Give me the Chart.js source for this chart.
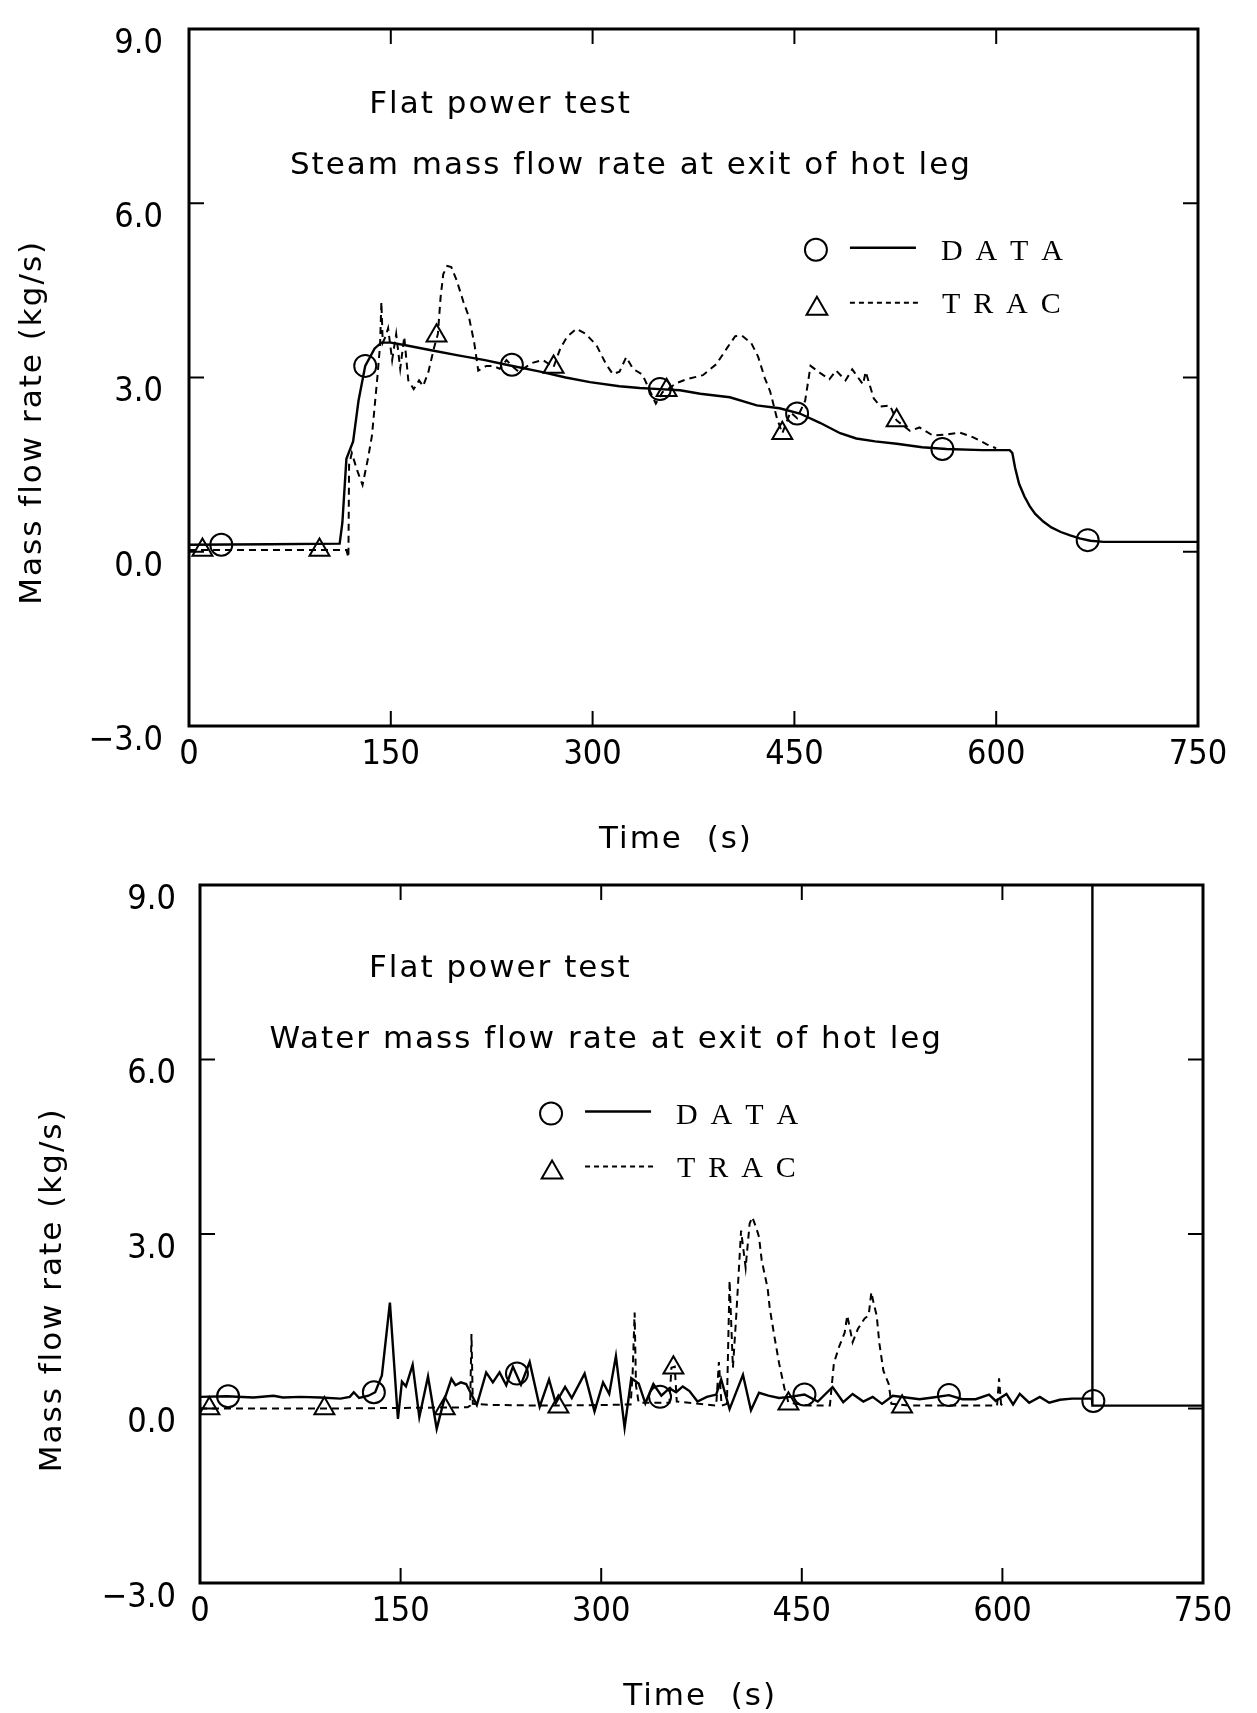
<!DOCTYPE html>
<html>
<head>
<meta charset="utf-8">
<title>Flat power test - hot leg mass flow rates</title>
<script src="https://cdn.jsdelivr.net/npm/chart.js"></script>
<style>
  html, body { margin: 0; padding: 0; background: #fff; }
  body { width: 1257px; height: 1713px; position: relative; overflow: hidden; }
  canvas { position: absolute; left: 0; }
  #steam { top: 0; }
  #water { top: 865px; }
</style>
</head>
<body>
<canvas id="steam" width="1257" height="865"></canvas>
<canvas id="water" width="1257" height="848"></canvas>
<script>
// [time (s), mass flow rate (kg/s)]
const TIME_TICKS = [0, 150, 300, 450, 600, 750];
const FLOW_TICKS = [-3, 0, 3, 6, 9];

const steamData = [
  [0, 0.12], [60, 0.13], [112, 0.14], [114, 0.5], [117, 1.6], [122, 1.9], [126, 2.6], [131, 3.2],
  [138, 3.5], [143, 3.6], [150, 3.6], [160, 3.56], [180, 3.47], [200, 3.38], [220, 3.3], [236, 3.22],
  [261, 3.1], [280, 3.0], [298, 2.92], [320, 2.85], [335, 2.82], [350, 2.8], [365, 2.78], [380, 2.72],
  [402, 2.66], [422, 2.52], [439, 2.47], [454, 2.38], [469, 2.22], [484, 2.04], [496, 1.95], [510, 1.9],
  [526, 1.86], [545, 1.8], [563, 1.77], [590, 1.75], [610, 1.75], [612, 1.7], [614, 1.45], [617, 1.17],
  [621, 0.95], [625, 0.78], [629, 0.65], [635, 0.52], [641, 0.42], [648, 0.34], [655, 0.28], [662, 0.23],
  [670, 0.19], [680, 0.17], [750, 0.17]
];
const steamTrac = [
  [0, 0.03], [117, 0.03], [118.5, -0.1], [119, 1.5], [121, 1.7], [125, 1.4], [129, 1.15], [133, 1.6],
  [136, 2.0], [140, 3.0], [142, 3.55], [143, 4.3], [144, 3.6], [146, 3.7], [148, 3.85], [151, 3.3],
  [154, 3.75], [157, 3.15], [160, 3.7], [163, 2.95], [167, 2.8], [171, 2.95], [174, 2.85], [178, 3.1],
  [182, 3.5], [185, 3.75], [187, 4.38], [189, 4.78], [192, 4.92], [195, 4.9], [199, 4.67], [204, 4.3],
  [208, 4.05], [212, 3.6], [215, 3.12], [221, 3.2], [226, 3.2], [231, 3.15], [236, 3.3], [240, 3.2],
  [245, 3.1], [255, 3.25], [263, 3.3], [271, 3.18], [276, 3.5], [281, 3.7], [288, 3.84], [295, 3.75],
  [303, 3.55], [310, 3.23], [315, 3.06], [320, 3.1], [325, 3.35], [330, 3.15], [337, 3.05], [342, 2.8],
  [347, 2.55], [352, 2.75], [356, 2.8], [362, 2.9], [370, 2.97], [382, 3.04], [392, 3.23], [400, 3.51],
  [406, 3.71], [411, 3.72], [418, 3.59], [423, 3.36], [428, 2.99], [432, 2.76], [437, 2.3], [441, 2.04],
  [447, 2.4], [452, 2.3], [458, 2.6], [462, 3.2], [469, 3.08], [476, 2.97], [481, 3.12], [488, 2.95],
  [493, 3.14], [501, 2.88], [503, 3.1], [509, 2.64], [514, 2.5], [521, 2.52], [526, 2.26], [536, 2.08],
  [543, 2.14], [553, 2.0], [563, 2.02], [573, 2.05], [583, 1.97], [593, 1.85], [600, 1.78]
];
const steamDataMarks = [[24, 0.12], [131, 3.2], [240, 3.22], [350, 2.8], [452, 2.38], [560, 1.77], [668, 0.2]];
const steamTracMarks = [[10, 0.03], [97, 0.03], [184, 3.72], [271, 3.18], [355, 2.78], [441, 2.04], [526, 2.26]];

const waterData = [
  [0, 0.2], [20, 0.21], [40, 0.19], [55, 0.22], [62, 0.19], [75, 0.2], [90, 0.19], [105, 0.17],
  [112, 0.2], [115, 0.28], [119, 0.18], [126, 0.22], [131, 0.28], [136, 0.57], [142, 1.82], [148, -0.18],
  [151, 0.46], [154, 0.38], [159, 0.75], [164, -0.15], [170.5, 0.55], [177, -0.35], [182, 0.1], [188, 0.51],
  [191, 0.4], [195, 0.45], [199, 0.42], [207, 0.06], [214, 0.62], [219, 0.45], [224, 0.62], [229, 0.4],
  [234, 0.72], [240, 0.41], [246.5, 0.8], [254, 0.03], [261, 0.5], [266, 0.09], [273, 0.37], [278, 0.18],
  [287.6, 0.6], [295, -0.05], [301.4, 0.45], [306, 0.25], [311, 0.9], [317.5, -0.33], [322.5, 0.52], [328, 0.43],
  [333, 0.09], [339, 0.42], [345, 0.22], [351, 0.35], [356, 0.28], [361, 0.38], [366, 0.3], [372, 0.12],
  [379, 0.2], [386, 0.24], [389.7, 0.5], [396, -0.01], [406, 0.58], [412, -0.03], [418, 0.27], [425, 0.22],
  [433, 0.18], [441, 0.2], [452, 0.24], [462, 0.12], [473, 0.37], [481, 0.11], [488, 0.25], [496, 0.12],
  [503, 0.2], [510, 0.08], [518, 0.22], [528, 0.19], [538, 0.16], [548, 0.19], [560, 0.23], [570, 0.16],
  [580, 0.16], [590, 0.24], [595, 0.13], [603, 0.25], [608, 0.07], [613, 0.25], [620, 0.1], [628, 0.2],
  [635, 0.1], [643, 0.15], [652, 0.17], [660, 0.17], [667, 0.17], [667.2, 9.0], [667.4, 0.05], [750, 0.05]
];
const waterTrac = [
  [0, 0.0], [100, 0.0], [200, 0.02], [202, 0.05], [203, 1.28], [204, 0.08], [220, 0.06], [260, 0.05],
  [300, 0.06], [322, 0.07], [323.5, 0.6], [325, 1.65], [326, 0.4], [328, 0.1], [351, 0.1], [352.5, 0.7],
  [355, 0.72], [356.5, 0.12], [386, 0.05], [388, 0.8], [390, 0.05], [394, 0.08], [396, 2.2], [398.5, 0.7],
  [401, 1.6], [404.6, 3.06], [408, 2.42], [411, 3.18], [413, 3.29], [416, 3.1], [418, 2.95], [420, 2.55],
  [424.5, 2.06], [426, 1.73], [429.5, 1.24], [433, 0.78], [437, 0.35], [440, 0.1], [455, 0.05], [471, 0.05],
  [474, 0.78], [478, 1.07], [482, 1.3], [484, 1.6], [488, 1.14], [492, 1.37], [497, 1.55], [500, 1.6],
  [502, 2.0], [504, 1.78], [506, 1.6], [508, 1.12], [511, 0.65], [515, 0.42], [517, 0.08], [530, 0.05],
  [596, 0.05], [597.5, 0.52], [599, 0.07], [600, 0.06]
];
const waterDataMarks = [[21, 0.21], [130, 0.28], [237, 0.6], [344, 0.2], [452, 0.24], [560, 0.23], [668, 0.13]];
const waterTracMarks = [[7, 0.0], [93, 0.0], [183, 0.0], [268, 0.03], [354, 0.7], [440, 0.08], [525, 0.03]];

const TICK_FONT = "'Liberation Sans Narrow', 'DejaVu Sans Condensed', Roboto, sans-serif";
const TEXT_FONT = "31px 'DejaVu Sans', sans-serif";
const KEY_FONT = "30px 'Liberation Serif', 'DejaVu Serif', serif";

let toPoints = function(rows) {
  return rows.map(([x, y]) => ({ x, y }));
};

let strokeLine = function(ctx, x1, y1, x2, y2) {
  ctx.beginPath();
  ctx.moveTo(x1, y1);
  ctx.lineTo(x2, y2);
  ctx.stroke();
};

let marker = function(ctx, style, x, y, r) {
  ctx.beginPath();
  if (style === 'circle') {
    ctx.arc(x, y, r, 0, Math.PI * 2);
  } else {
    for (let k = 0; k < 3; k++) {
      let a = k * 2 * Math.PI / 3;
      let px = x + Math.sin(a) * r, py = y - Math.cos(a) * r;
      if (k) ctx.lineTo(px, py); else ctx.moveTo(px, py);
    }
    ctx.closePath();
  }
  ctx.stroke();
};

// frame, inward ticks, notes, axis titles and the little key
const paper = {
  id: 'paper',
  afterDraw(chart, args, o) {
    const { ctx, chartArea: a, scales: { x, y } } = chart;
    ctx.save();
    ctx.strokeStyle = '#000';
    ctx.fillStyle = '#000';
    ctx.lineWidth = 3;
    ctx.strokeRect(a.left, a.top, a.width, a.height);

    ctx.lineWidth = 2;
    x.ticks.forEach(tk => {
      if (tk.value <= x.min || tk.value >= x.max) return;
      let px = x.getPixelForValue(tk.value);
      strokeLine(ctx, px, a.bottom, px, a.bottom - 15);
      strokeLine(ctx, px, a.top, px, a.top + 15);
    });
    y.ticks.forEach(tk => {
      if (tk.value <= y.min || tk.value >= y.max) return;
      let py = y.getPixelForValue(tk.value);
      strokeLine(ctx, a.left, py, a.left + 15, py);
      strokeLine(ctx, a.right, py, a.right - 15, py);
    });

    ctx.font = TEXT_FONT;
    ctx.letterSpacing = '2px';
    ctx.textBaseline = 'alphabetic';
    ctx.textAlign = 'left';
    o.notes.forEach(n => ctx.fillText(n.text, x.getPixelForValue(n.t), y.getPixelForValue(n.v)));

    ctx.textAlign = 'center';
    ctx.fillText(o.xTitle.text, x.getPixelForValue(o.xTitle.t), a.bottom + o.xTitle.dy);

    ctx.save();
    ctx.translate(a.left + o.yTitle.dx, y.getPixelForValue(o.yTitle.v));
    ctx.rotate(-Math.PI / 2);
    ctx.fillText(o.yTitle.text, 0, 0);
    ctx.restore();

    // key
    let lx = x.getPixelForValue(o.key.t), ly = y.getPixelForValue(o.key.v);
    let labels = chart.data.datasets.slice(0, 2).map(d => d.label.split('').join(' '));
    ctx.lineWidth = 2;
    marker(ctx, 'circle', lx, ly, 11);
    marker(ctx, 'triangle', lx + 1, ly + 59, 12);
    ctx.lineWidth = 2.5;
    strokeLine(ctx, lx + 34, ly - 2, lx + 100, ly - 2);
    ctx.lineWidth = 2;
    ctx.setLineDash([5, 4]);
    strokeLine(ctx, lx + 34, ly + 53, lx + 102, ly + 53);
    ctx.setLineDash([]);
    ctx.font = KEY_FONT;
    ctx.letterSpacing = '2.7px';
    ctx.textAlign = 'left';
    ctx.fillText(labels[0], lx + 125, ly + 10);
    ctx.fillText(labels[1], lx + 126, ly + 63);
    ctx.letterSpacing = '0px';
    ctx.restore();
  }
};

let lineSet = function(label, rows, dash, width) {
  return {
    label, data: toPoints(rows), showLine: true, borderColor: '#000', borderWidth: width,
    borderDash: dash, pointRadius: 0, tension: 0
  };
};

let markSet = function(label, rows, style) {
  return {
    label, data: toPoints(rows), showLine: false, pointStyle: style,
    pointRadius: style === 'circle' ? 11 : 11.5, pointBorderWidth: 2,
    pointBorderColor: '#000', pointBackgroundColor: 'rgba(0,0,0,0)'
  };
};

let draw = function(canvas, series, look) {
  return new Chart(canvas.getContext('2d'), {
    type: 'scatter',
    data: {
      datasets: [
        lineSet('DATA', series.data, [], 2.4),
        lineSet('TRAC', series.trac, [7, 5], 2),
        markSet('DATA marks', series.dataMarks, 'circle'),
        markSet('TRAC marks', series.tracMarks, 'triangle')
      ]
    },
    options: {
      responsive: false,
      animation: false,
      devicePixelRatio: 1,
      events: [],
      layout: { padding: look.padding },
      plugins: {
        legend: { display: false },
        tooltip: { enabled: false },
        paper: look.paper
      },
      scales: {
        x: {
          type: 'linear', min: 0, max: 750,
          afterBuildTicks: s => { s.ticks = TIME_TICKS.map(value => ({ value })); },
          afterFit: s => { s.height = look.xHeight; },
          grid: { display: false, drawTicks: false },
          border: { display: false },
          ticks: { color: '#000', font: { family: TICK_FONT, size: 34 }, padding: 9, maxRotation: 0, autoSkip: false, callback: v => String(v) }
        },
        y: {
          type: 'linear', min: -3, max: 9,
          afterBuildTicks: s => { s.ticks = FLOW_TICKS.map(value => ({ value })); },
          afterFit: s => { s.width = look.yWidth; s.paddingTop = 0; s.paddingBottom = 0; },
          grid: { display: false, drawTicks: false },
          border: { display: false },
          ticks: {
            color: '#000', font: { family: TICK_FONT, size: 34 }, padding: look.yPad, labelOffset: 15,
            callback: v => (v < 0 ? '\u2212' : '') + Math.abs(v).toFixed(1)
          }
        }
      }
    },
    plugins: [paper]
  });
};

draw(document.getElementById('steam'),
  { data: steamData, trac: steamTrac, dataMarks: steamDataMarks, tracMarks: steamTracMarks },
  {
    padding: { top: 29, right: 59, bottom: 0, left: 0 }, xHeight: 139, yWidth: 189, yPad: 26,
    paper: {
      notes: [
        { text: 'Flat power test', t: 134, v: 7.55 },
        { text: 'Steam mass flow rate at exit of hot leg', t: 75, v: 6.5 }
      ],
      xTitle: { text: 'Time  (s)', t: 362, dy: 122 },
      yTitle: { text: 'Mass flow rate (kg/s)', dx: -148, v: 2.23 },
      key: { t: 466, v: 5.2 }
    }
  });

draw(document.getElementById('water'),
  { data: waterData, trac: waterTrac, dataMarks: waterDataMarks, tracMarks: waterTracMarks },
  {
    padding: { top: 20, right: 54, bottom: 0, left: 0 }, xHeight: 130, yWidth: 200, yPad: 24,
    paper: {
      notes: [
        { text: 'Flat power test', t: 126.4, v: 7.42 },
        { text: 'Water mass flow rate at exit of hot leg', t: 51.9, v: 6.2 }
      ],
      xTitle: { text: 'Time  (s)', t: 374, dy: 122 },
      yTitle: { text: 'Mass flow rate (kg/s)', dx: -139, v: 2.04 },
      key: { t: 262.5, v: 5.07 }
    }
  });
</script>
</body>
</html>
